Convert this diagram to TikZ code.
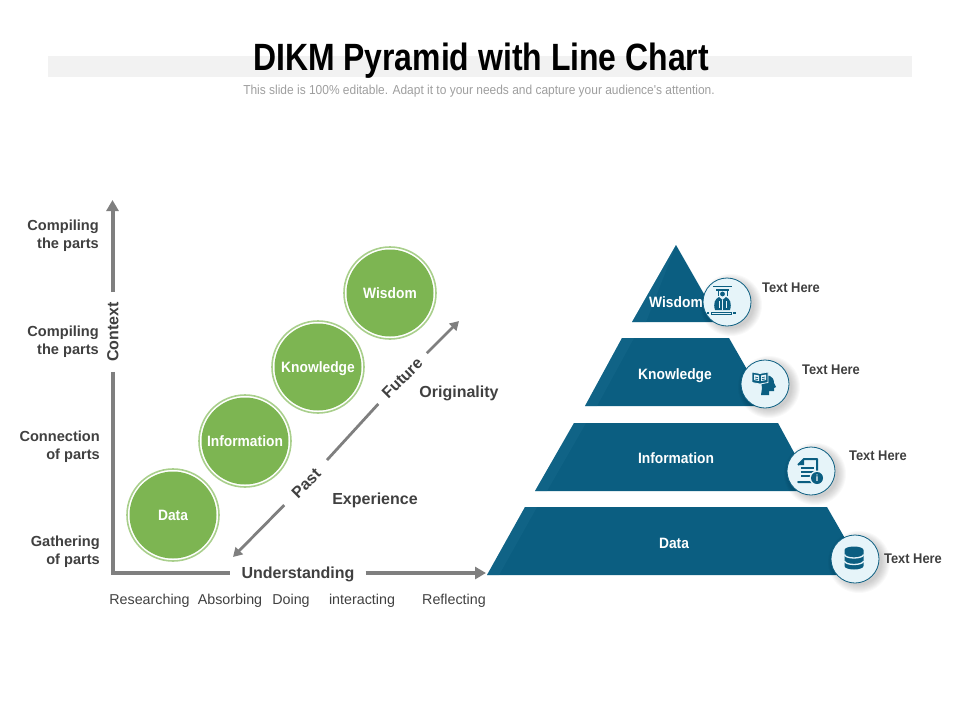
\documentclass[tikz,border=0pt]{standalone}
\usepackage{fontspec}
\setmainfont{Liberation Sans}
\newfontfamily\titlefont[FakeStretch=0.84]{Liberation Sans}
\newfontfamily\narrowfont[FakeStretch=0.92]{Liberation Sans}
\usetikzlibrary{calc}
\usetikzlibrary{arrows.meta}
\definecolor{pyrblue}{HTML}{0B5E81}
\definecolor{pyredge}{HTML}{1C6F90}
\definecolor{ballgreen}{HTML}{7DB552}
\definecolor{ringgreen}{HTML}{A9CF8C}
\definecolor{iconbg}{HTML}{E6F4F9}
\definecolor{axisgray}{HTML}{7F7F7F}
\definecolor{labelgray}{HTML}{404040}
\tikzset{
  ball/.style={circle,fill=ballgreen,minimum size=87,inner sep=0,text=white,text height=10.5,text depth=0,font=\narrowfont\bfseries\fontsize{15}{16}\selectfont},
  ring/.style={draw=ringgreen,line width=1.6},
  layer/.style={fill=pyrblue},
  layeredge/.style={fill=pyredge,opacity=.35},
  layertext/.style={text=white,inner sep=0,text height=10.5,text depth=0,font=\narrowfont\bfseries\fontsize{15}{16}\selectfont},
  iconbase/.style={circle,fill=iconbg,draw=pyrblue,line width=0.8,minimum size=48,inner sep=0},
  hint/.style={text=labelgray,inner sep=0,text height=10,text depth=0,font=\narrowfont\bfseries\fontsize{14}{16}\selectfont},
  axislabel/.style={text=labelgray,inner sep=0,text height=11.5,text depth=0,font=\bfseries\fontsize{16}{18}\selectfont},
  sidelabel/.style={text=labelgray,align=right,anchor=east,inner sep=0,font=\bfseries\fontsize{14.6}{18}\selectfont},
  bottomlabel/.style={text=labelgray,inner sep=0,text height=10,text depth=0,font=\fontsize{14.3}{16}\selectfont},
  axis/.style={draw=axisgray,line width=4},
  axisarrow/.style={axis,-{Triangle[length=11,width=12]}},
  slant/.style={draw=axisgray,line width=2.8},
  slantarrow/.style={slant,-{Triangle[length=9,width=10]}}
}
\begin{document}
\begin{tikzpicture}[x=1pt,y=-1pt]
    \useasboundingbox (0,0) rectangle (960,720);

    % Title band
    \fill[black!5] (48,56) rectangle (912,77);
    \node[inner sep=0,text height=27,text depth=0,font=\titlefont\bfseries\fontsize{38}{40}\selectfont] (title) at (481,57) {DIKM Pyramid with Line Chart};
    \node[inner sep=0,text=black!38,text height=9,text depth=0,font=\narrowfont\fontsize{13}{14}\selectfont] (subtitle) at (479,90) {This slide is 100\% editable. Adapt it to your needs and capture your audience's attention.};

    % Axis end points
    \coordinate (xEnd) at (486,573);
    \coordinate (yEnd) at (112.5,200);
    \coordinate (pastEnd) at (233,557);
    \coordinate (futureEnd) at (459,321);

    % Axis labels
    \node[axislabel,inner xsep=11] (understanding) at (298,573) {Understanding};
    \node[axislabel,inner xsep=10,rotate=90] (context) at (112.5,332) {Context};
    \node[axislabel,inner xsep=14,rotate=45] (past) at (306,483) {Past};
    \node[axislabel,inner xsep=10,rotate=45] (future) at (402,378) {Future};
    \node[axislabel] (originality) at (459,392) {Originality};
    \node[axislabel] (experience) at (375,499) {Experience};

    % Draw the axes
    \draw[axis] (context) |- (understanding);
    \draw[axisarrow] (understanding) -- (xEnd);
    \draw[axisarrow] (context) -- (yEnd);
    \draw[slantarrow] (past) -- (pastEnd);
    \draw[slant] (past) -- (future);
    \draw[slantarrow] (future) -- (futureEnd);

    % Side labels
    \node[sidelabel] (lblA) at (99,236) {Compiling\\the parts};
    \node[sidelabel] (lblB) at (99,342) {Compiling\\the parts};
    \node[sidelabel] (lblC) at (100,447) {Connection\\of parts};
    \node[sidelabel] (lblD) at (100,552) {Gathering\\of parts};

    % Bottom labels
    \node[bottomlabel] (researching) at (149.5,599) {Researching};
    \node[bottomlabel] (absorbing) at (230,599) {Absorbing};
    \node[bottomlabel] (doing) at (291,599) {Doing};
    \node[bottomlabel] (interacting) at (362,599) {interacting};
    \node[bottomlabel] (reflecting) at (454,599) {Reflecting};

    % Green circles
    \node[ball] (ballData) at (173,515) {Data};
    \node[ball] (ballInfo) at (245,441) {Information};
    \node[ball] (ballKnow) at (318,367) {Knowledge};
    \node[ball] (ballWisdom) at (390,293) {Wisdom};
    \foreach \n in {ballData,ballInfo,ballKnow,ballWisdom}
        \draw[ring] (\n) circle (46);

    % Pyramid layers
    \fill[layer] (676,245) -- (720,322) -- (632,322) -- cycle;
    \fill[layer] (622,338) -- (729,338) -- (768,406) -- (585,406) -- cycle;
    \fill[layer] (574,423) -- (778,423) -- (815,491) -- (535,491) -- cycle;
    \fill[layer] (525,507) -- (827,507) -- (866,575) -- (487,575) -- cycle;
    \fill[layeredge] (676,245) -- (632,322) -- (646,322) -- cycle;
    \fill[layeredge] (622,338) -- (634,338) -- (597,406) -- (585,406) -- cycle;
    \fill[layeredge] (574,423) -- (586,423) -- (547,491) -- (535,491) -- cycle;
    \fill[layeredge] (525,507) -- (537,507) -- (499,575) -- (487,575) -- cycle;

    \node[layertext] (pWisdom) at (676,302) {Wisdom};
    \node[layertext] (pKnow) at (675,374) {Knowledge};
    \node[layertext] (pInfo) at (676,458) {Information};
    \node[layertext] (pData) at (674,543) {Data};

    % Icon shadows
    \foreach \x/\y in {727/302,765/384,811/471,855/559}
        \foreach \r in {31,30,...,23}
            \fill[black,opacity=.025] (\x+4,\y+3) circle (\r);

    % Icon circles
    \node[iconbase] (iWisdom) at (727,302) {};
    \node[iconbase] (iKnow) at (765,384) {};
    \node[iconbase] (iInfo) at (811,471) {};
    \node[iconbase] (iData) at (855,559) {};

    % Wisdom icon
    \begin{scope}[shift={($(iWisdom)+(-4,0)$)},pyrblue]
        \fill (-10,-16) rectangle (9,-15);
        \fill (-7,-13) rectangle (6,-11);
        \draw[line width=.6] (-5,-11) -- (-5,-6) (4,-11) -- (4,-6);
        \fill (-.5,-8) circle (2.4);
        \fill (-8,8) .. controls (-10,1) and (-8,-3) .. (-4,-5) -- (-.5,-2) -- (3,-5) .. controls (7,-3) and (9,1) .. (7,8) -- cycle;
        \draw[iconbg,line width=.8] (-.5,-2) -- (-.5,8) (-4,-1) -- (-4,6) (3,-1) -- (3,6);
        \fill (-16,10) rectangle (-14,12);
        \fill (10,10) rectangle (13,12);
        \draw[line width=.8] (-12,10) rectangle (8,12);
    \end{scope}

    % Knowledge icon
    \begin{scope}[shift={(iKnow)},pyrblue]
        \fill (-1,-7) .. controls (1,-10) and (9,-9) .. (9,-1) -- (11,3) -- (9,4) -- (9,7) -- (4,7) -- (4,11) -- (-4,11) -- (-3,4) .. controls (-4,0) and (-3,-4) .. (-1,-7) -- cycle;
        \fill[draw=iconbg,line width=.8] (-13,-12) -- (-5,-10.5) -- (3,-12) -- (3,-1.5) -- (-5,0) -- (-13,-1.5) -- cycle;
        \fill[iconbg] (-11,-9.5) -- (-6,-8.5) -- (-6,-3) -- (-11,-4) -- cycle;
        \fill[iconbg] (-4,-8.5) -- (1,-9.5) -- (1,-4) -- (-4,-3) -- cycle;
        \draw[line width=.7] (-10,-7) -- (-7,-6.3) (-10,-5) -- (-7,-4.3) (-3,-6.3) -- (0,-7) (-3,-4.3) -- (0,-5);
    \end{scope}

    % Information icon
    \begin{scope}[shift={(iInfo)},pyrblue]
        \draw[line width=2,line join=round] (-13,-6) -- (-7,-12) -- (6,-12) -- (6,1) (3,11) -- (-13,11) -- cycle;
        \fill (-13,-6) -- (-7,-12) -- (-7,-6) -- cycle;
        \foreach \yy in {-3,1,5}
            \draw[line width=2.2] (-10,\yy) -- (3,\yy);
        \fill[iconbg] (6,7) circle (7.5);
        \fill (6,7) circle (6);
        \node[text=white,inner sep=0,font=\bfseries\fontsize{9}{9}\selectfont] (iInfoMark) at (6,7) {i};
    \end{scope}

    % Data icon
    \begin{scope}[shift={($(iData)+(-1,-1)$)},pyrblue]
        \fill (-9.5,-8) -- (-9.5,8) arc[start angle=180,end angle=0,x radius=9.5,y radius=3.5] -- (9.5,-8) arc[start angle=0,end angle=-180,x radius=9.5,y radius=3.5] -- cycle;
        \foreach \yy in {-3.5,3}
            \draw[iconbg,line width=1.3] (-9.5,\yy) arc[start angle=180,end angle=0,x radius=9.5,y radius=3.5];
    \end{scope}

    % Icon captions
    \node[hint] (hWisdom) at (791,287) {Text Here};
    \node[hint] (hKnow) at (831,369) {Text Here};
    \node[hint] (hInfo) at (878,455) {Text Here};
    \node[hint] (hData) at (913,558) {Text Here};
\end{tikzpicture}
\end{document}
